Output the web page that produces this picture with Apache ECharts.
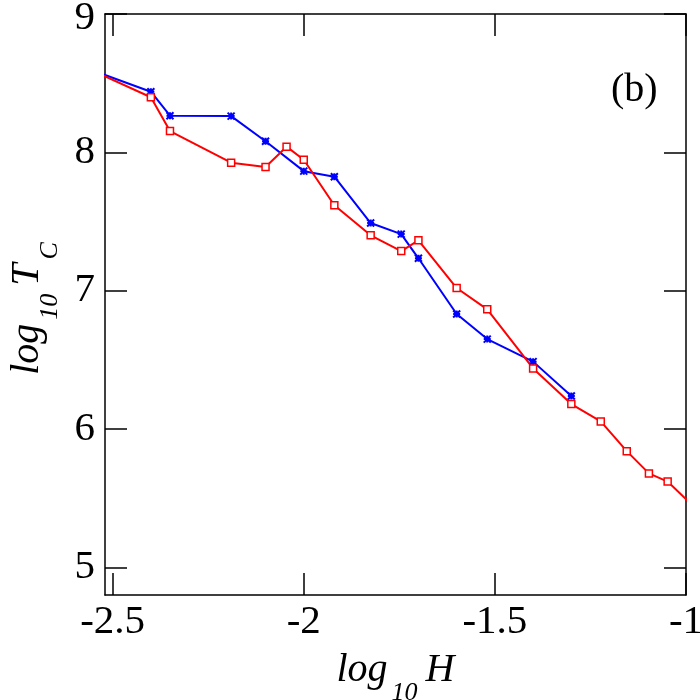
<!DOCTYPE html>
<html>
<head>
<meta charset="utf-8">
<script src="https://cdn.jsdelivr.net/npm/echarts@6/dist/echarts.min.js"></script>
<style>
html, body { margin: 0; padding: 0; background: #fff; }
#chart { width: 700px; height: 700px; }
</style>
</head>
<body>
<div id="chart"></div>
<script>
// log10 H and log10 Tc (first / last points sit outside the frame)
var blueX = [-2.6, -2.4, -2.35, -2.19, -2.1, -2.0, -1.92, -1.825, -1.745, -1.7, -1.6, -1.52, -1.4, -1.3];
var blueY = [8.64, 8.438, 8.265, 8.262, 8.08, 7.864, 7.824, 7.489, 7.409, 7.234, 6.831, 6.65, 6.487, 6.238];
var redX = [-2.6, -2.4, -2.35, -2.19, -2.1, -2.045, -2.0, -1.92, -1.825, -1.745, -1.7, -1.6, -1.52, -1.4, -1.3, -1.223, -1.155, -1.097, -1.048, -0.98];
var redY = [8.65, 8.398, 8.154, 7.925, 7.894, 8.041, 7.946, 7.617, 7.4, 7.286, 7.364, 7.019, 6.865, 6.438, 6.18, 6.055, 5.84, 5.679, 5.62, 5.44];
var xTicks = [-2.5, -2, -1.5, -1];
var yTicks = [5, 6, 7, 8, 9];

function pairs(xs, ys) {
    var out = [];
    for (var i = 0; i < xs.length; i++) {
        out.push([xs[i], ys[i]]);
    }
    return out;
}

var serif = '"Liberation Serif", "Times New Roman", serif';
// subscripts hang fully below the baseline, as in the original
var nameRich = {
    i: { fontFamily: serif, fontStyle: 'italic', fontSize: 40, lineHeight: 40, verticalAlign: 'top', color: '#000' },
    s: { fontFamily: serif, fontStyle: 'italic', fontSize: 26, lineHeight: 26, verticalAlign: 'top', color: '#000', padding: [30, 8, 0, 4] }
};

function xAxisDef(pos, showLabel) {
    return {
        type: 'value',
        position: pos,
        min: -2.52,
        max: -1,
        axisLine: { show: true, lineStyle: { color: '#000', width: 1.5 } },
        axisTick: { show: true, inside: true, length: 22, customValues: xTicks, lineStyle: { color: '#000', width: 1.5 } },
        axisLabel: { show: showLabel, customValues: xTicks, fontFamily: serif, fontSize: 41, color: '#000', margin: 7 },
        splitLine: { show: false }
    };
}
function yAxisDef(pos, showLabel) {
    return {
        type: 'value',
        position: pos,
        min: 4.8,
        max: 9,
        axisLine: { show: true, lineStyle: { color: '#000', width: 1.5 } },
        axisTick: { show: true, inside: true, length: 22, customValues: yTicks, lineStyle: { color: '#000', width: 1.5 } },
        axisLabel: {
            show: showLabel,
            customValues: yTicks,
            fontFamily: serif,
            fontSize: 41,
            color: '#000',
            margin: 10,
            // top label sits a little lower so it stays inside the page
            formatter: function (v) {
                return v === 9 ? '{t|' + v + '}' : '' + v;
            },
            rich: {
                t: { fontFamily: serif, fontSize: 41, color: '#000', padding: [9, 0, 0, 0] }
            }
        },
        splitLine: { show: false }
    };
}

var xBottom = xAxisDef('bottom', true);
xBottom.name = '{i|log}{s|10}{i|H}';
xBottom.nameLocation = 'middle';
xBottom.nameGap = 55;
xBottom.nameTextStyle = { rich: nameRich };

var yLeft = yAxisDef('left', true);
yLeft.name = '{i|log}{s|10}{i|T}{s|C}';
yLeft.nameLocation = 'middle';
yLeft.nameGap = 56;
yLeft.nameRotate = 90;
yLeft.nameTextStyle = { rich: nameRich };

var chart = echarts.init(document.getElementById('chart'));
chart.setOption({
    backgroundColor: '#fff',
    animation: false,
    grid: { left: 105, right: 14, top: 14, bottom: 105, outerBoundsMode: 'none' },
    xAxis: [xBottom, xAxisDef('top', false)],
    yAxis: [yLeft, yAxisDef('right', false)],
    graphic: [{
        type: 'text',
        left: 611,
        top: 70,
        style: { text: '(b)', fontFamily: serif, fontSize: 40, fill: '#000' }
    }],
    series: [
        {
            name: 'blue',
            type: 'line',
            clip: true,
            data: pairs(blueX, blueY),
            symbol: 'path://M0,0L10,10M10,0L0,10M5,0L5,10M0,5L10,5',
            symbolSize: 7,
            showAllSymbol: true,
            lineStyle: { color: '#0000ff', width: 2 },
            itemStyle: { color: '#0000ff', borderColor: '#0000ff', borderWidth: 2 }
        },
        {
            name: 'red',
            type: 'line',
            clip: true,
            data: pairs(redX, redY),
            symbol: 'rect',
            symbolSize: 7,
            showAllSymbol: true,
            lineStyle: { color: '#ff0000', width: 2 },
            itemStyle: { color: '#ffffff', borderColor: '#ff0000', borderWidth: 1.5 }
        }
    ]
});
</script>
</body>
</html>
